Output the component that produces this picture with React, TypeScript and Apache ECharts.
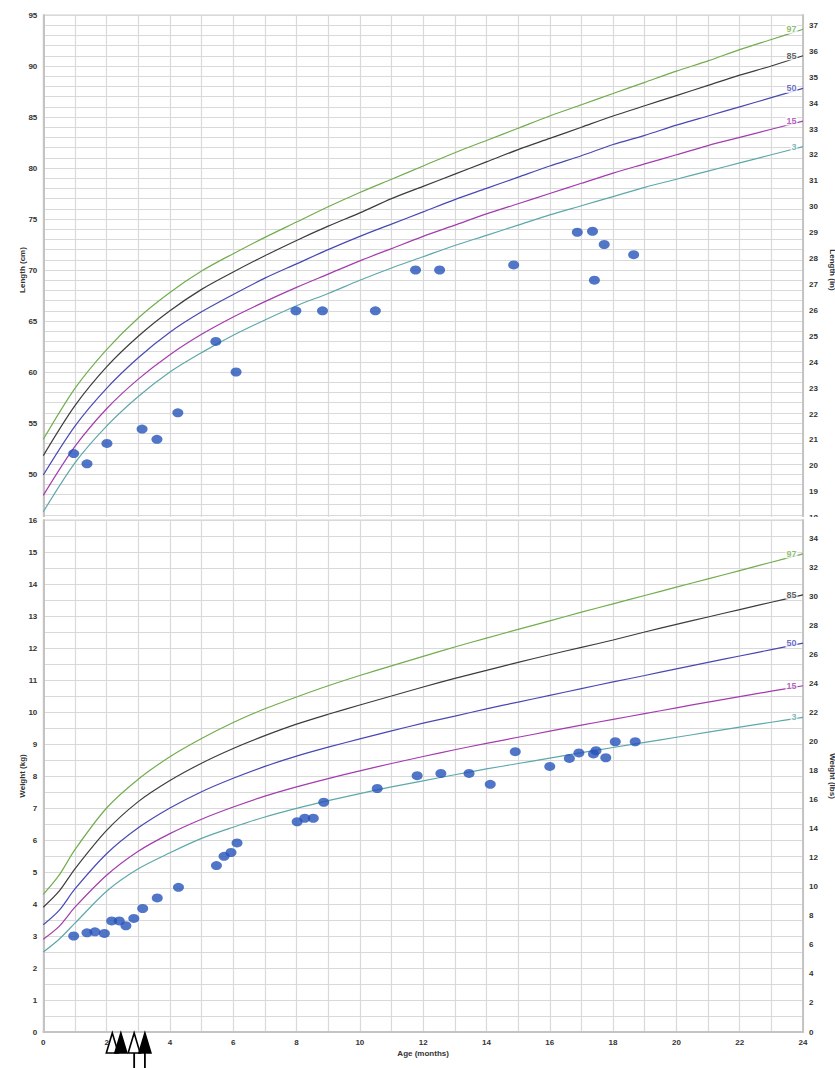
import React, { useEffect, useRef } from "react";
import * as echarts from "echarts";

// ---------- reference curves (WHO boys) ----------
const lengthAges = [0, 1, 2, 3, 4, 5, 6, 7, 8, 9, 10, 11, 12, 13, 14, 15, 16, 17, 18, 19, 20, 21, 22, 23, 24];
const lenP3 = [46.3, 51.1, 54.7, 57.6, 60.0, 61.9, 63.6, 65.1, 66.5, 67.7, 69.0, 70.2, 71.3, 72.4, 73.4, 74.4, 75.4, 76.3, 77.2, 78.1, 78.9, 79.7, 80.5, 81.3, 82.1];
const lenP15 = [47.9, 52.7, 56.4, 59.3, 61.7, 63.7, 65.4, 66.9, 68.3, 69.6, 70.9, 72.1, 73.3, 74.4, 75.5, 76.5, 77.5, 78.5, 79.5, 80.4, 81.3, 82.2, 83.0, 83.8, 84.6];
const lenP50 = [49.9, 54.7, 58.4, 61.4, 63.9, 65.9, 67.6, 69.2, 70.6, 72.0, 73.3, 74.5, 75.7, 76.9, 78.0, 79.1, 80.2, 81.2, 82.3, 83.2, 84.2, 85.1, 86.0, 86.9, 87.8];
const lenP85 = [51.8, 56.7, 60.5, 63.5, 66.0, 68.1, 69.8, 71.4, 72.9, 74.3, 75.6, 77.0, 78.2, 79.4, 80.6, 81.8, 82.9, 84.0, 85.1, 86.1, 87.1, 88.1, 89.1, 90.0, 91.0];
const lenP97 = [53.4, 58.4, 62.2, 65.3, 67.8, 69.9, 71.6, 73.2, 74.7, 76.2, 77.6, 78.9, 80.2, 81.5, 82.7, 83.9, 85.1, 86.2, 87.3, 88.4, 89.5, 90.5, 91.6, 92.6, 93.6];

const weightAges = [0, 0.5, 1, 2, 3, 4, 5, 6, 7, 8, 9, 10, 11, 12, 13, 14, 15, 16, 17, 18, 19, 20, 21, 22, 23, 24];
const wP3 = [2.5, 2.9, 3.4, 4.4, 5.1, 5.6, 6.05, 6.4, 6.72, 6.99, 7.23, 7.45, 7.66, 7.85, 8.04, 8.22, 8.39, 8.56, 8.73, 8.89, 9.05, 9.21, 9.37, 9.53, 9.68, 9.83];
const wP15 = [2.9, 3.3, 3.9, 4.9, 5.65, 6.2, 6.65, 7.03, 7.37, 7.66, 7.92, 8.16, 8.39, 8.61, 8.82, 9.02, 9.21, 9.4, 9.59, 9.77, 9.95, 10.13, 10.31, 10.48, 10.65, 10.82];
const wP50 = [3.35, 3.8, 4.47, 5.57, 6.38, 7.0, 7.51, 7.93, 8.3, 8.62, 8.9, 9.16, 9.41, 9.65, 9.87, 10.1, 10.31, 10.52, 10.73, 10.94, 11.14, 11.35, 11.55, 11.75, 11.95, 12.15];
const wP85 = [3.9, 4.4, 5.1, 6.3, 7.2, 7.86, 8.4, 8.86, 9.26, 9.62, 9.93, 10.22, 10.5, 10.78, 11.05, 11.3, 11.55, 11.79, 12.02, 12.25, 12.5, 12.74, 12.97, 13.2, 13.43, 13.66];
const wP97 = [4.3, 4.9, 5.7, 7.0, 7.9, 8.6, 9.17, 9.67, 10.1, 10.47, 10.82, 11.14, 11.44, 11.74, 12.03, 12.31, 12.58, 12.85, 13.12, 13.38, 13.64, 13.9, 14.16, 14.42, 14.68, 14.94];

const percentileNames = ["97", "85", "50", "15", "3"];
const percentileColors = ["#72ad4e", "#3c3c3c", "#4848b4", "#a33cae", "#5ea8aa"];

// ---------- measurements ----------
const measLengthAges = [0.96, 1.38, 2.01, 3.12, 3.59, 4.25, 5.45, 6.09, 7.98, 8.82, 10.49, 11.76, 12.52, 14.86, 16.87, 17.35, 17.41, 17.72, 18.65];
const measLengthCm = [52.0, 51.0, 53.0, 54.4, 53.4, 56.0, 63.0, 60.0, 66.0, 66.0, 66.0, 70.0, 70.0, 70.5, 73.7, 73.8, 69.0, 72.5, 71.5];

const measWeightAges = [0.96, 1.38, 1.63, 1.93, 2.16, 2.4, 2.61, 2.86, 3.14, 3.6, 4.27, 5.47, 5.71, 5.93, 6.12, 8.02, 8.26, 8.53, 8.86, 10.55, 11.81, 12.56, 13.45, 14.12, 14.91, 16.0, 16.62, 16.92, 17.38, 17.46, 17.77, 18.07, 18.7];
const measWeightKg = [3.0, 3.1, 3.13, 3.08, 3.47, 3.47, 3.32, 3.55, 3.86, 4.19, 4.52, 5.2, 5.49, 5.61, 5.91, 6.57, 6.68, 6.68, 7.18, 7.61, 8.01, 8.08, 8.08, 7.74, 8.76, 8.3, 8.55, 8.72, 8.69, 8.79, 8.57, 9.07, 9.07];

// ---------- event markers on the age axis ----------
const eventAges = [2.18, 2.45, 2.87, 3.21];
const eventFilled = [0, 1, 0, 1];
const eventShaft = [0, 0, 1, 1];

// ---------- tick labels ----------
const cmTicks = [45, 50, 55, 60, 65, 70, 75, 80, 85, 90, 95];
const inchTicks = [18, 19, 20, 21, 22, 23, 24, 25, 26, 27, 28, 29, 30, 31, 32, 33, 34, 35, 36, 37];
const kgTicks = [0, 1, 2, 3, 4, 5, 6, 7, 8, 9, 10, 11, 12, 13, 14, 15, 16];
const lbsTicks = [0, 2, 4, 6, 8, 10, 12, 14, 16, 18, 20, 22, 24, 26, 28, 30, 32, 34];
const monthTicks = [0, 2, 4, 6, 8, 10, 12, 14, 16, 18, 20, 22, 24];

const FONT = "Liberation Sans, Arial, sans-serif";
const labelStyle = { fontSize: 8, fontWeight: "bold" as const, color: "#333", fontFamily: FONT };
const gridLine = { show: true, lineStyle: { color: "#d9d9d9", width: 1.2 } };
const axisLn = { show: true, lineStyle: { color: "#c4c4c4", width: 2 } };
const DOT = "#2552b9";

function curveSeries(ages: number[], sets: number[][]) {
  const lines = sets.map((vals, i) => ({
    type: "line",
    name: percentileNames[i],
    data: ages.map((a, j) => [a, vals[j]]),
    showSymbol: false,
    symbol: "none",
    smooth: 0.3,
    lineStyle: { color: percentileColors[i], width: 1.2 },
    z: 3,
  }));
  const labels = sets.map((vals, i) => ({
    type: "scatter",
    name: "lbl" + percentileNames[i],
    data: [[ages[ages.length - 1], vals[vals.length - 1]]],
    symbol: "circle",
    symbolSize: 1,
    itemStyle: { color: "rgba(0,0,0,0)" },
    z: 4,
    label: {
      show: true,
      position: "left",
      distance: 5,
      formatter: percentileNames[i],
      fontSize: 9,
      fontWeight: "bold",
      fontFamily: FONT,
      color: percentileColors[i],
      backgroundColor: "#fff",
      padding: [0, 1],
    },
  }));
  return [...lines, ...labels];
}

function TopChart() {
  const ref = useRef<HTMLDivElement>(null);
  useEffect(() => {
    const chart = echarts.init(ref.current!, null, { renderer: "svg" });
    chart.setOption({
      animation: false,
      grid: { left: 43.3, right: 32, top: 15, height: 510, show: true, borderColor: "#cfcfcf", borderWidth: 1, outerBoundsMode: "none", containLabel: false },
      xAxis: {
        type: "value",
        min: 0,
        max: 24,
        interval: 1,
        axisLabel: { show: false },
        axisTick: { show: false },
        axisLine: axisLn,
        splitLine: gridLine,
      },
      yAxis: [
        {
          type: "value",
          position: "left",
          min: 45,
          max: 95,
          interval: 1,
          axisLabel: { ...labelStyle, customValues: cmTicks, margin: 6 },
          axisTick: { show: false },
          axisLine: axisLn,
          splitLine: gridLine,
          name: "Length (cm)",
          nameLocation: "middle",
          nameGap: 17,
          nameMoveOverlap: false,
          nameTextStyle: { ...labelStyle },
        },
        {
          type: "value",
          position: "right",
          min: 45 / 2.54,
          max: 95 / 2.54,
          axisLabel: { ...labelStyle, customValues: inchTicks, margin: 6, formatter: (v: number) => String(Math.round(v)) },
          axisTick: { show: false },
          axisLine: axisLn,
          splitLine: { show: false },
          name: "Length (in)",
          nameLocation: "middle",
          nameRotate: -90,
          nameGap: 25,
          nameMoveOverlap: false,
          nameTextStyle: { ...labelStyle },
        },
      ],
      series: [
        ...curveSeries(lengthAges, [lenP97, lenP85, lenP50, lenP15, lenP3]),
        {
          type: "scatter",
          data: measLengthAges.map((a, i) => [a, measLengthCm[i]]),
          symbol: "circle",
          symbolSize: [11, 9],
          itemStyle: { color: DOT },
          z: 5,
        },
      ],
    });
    return () => chart.dispose();
  }, []);
  return <div ref={ref} style={{ width: 835, height: 545 }} />;
}

function BottomChart() {
  const ref = useRef<HTMLDivElement>(null);
  useEffect(() => {
    const chart = echarts.init(ref.current!, null, { renderer: "svg" });
    chart.setOption({
      animation: false,
      grid: { left: 43.3, right: 32, top: 15, height: 512, show: true, borderColor: "#cfcfcf", borderWidth: 1, outerBoundsMode: "none", containLabel: false },
      xAxis: {
        type: "value",
        min: 0,
        max: 24,
        interval: 1,
        axisLabel: { ...labelStyle, customValues: monthTicks, margin: 6 },
        axisTick: { show: false },
        axisLine: axisLn,
        splitLine: gridLine,
        name: "Age (months)",
        nameLocation: "middle",
        nameGap: 17,
        nameMoveOverlap: false,
        nameTextStyle: { ...labelStyle },
      },
      yAxis: [
        {
          type: "value",
          position: "left",
          min: 0,
          max: 16,
          interval: 0.5,
          axisLabel: { ...labelStyle, customValues: kgTicks, margin: 6 },
          axisTick: { show: false },
          axisLine: axisLn,
          splitLine: gridLine,
          name: "Weight (kg)",
          nameLocation: "middle",
          nameGap: 17,
          nameMoveOverlap: false,
          nameTextStyle: { ...labelStyle },
        },
        {
          type: "value",
          position: "right",
          min: 0,
          max: 16 * 2.20462,
          axisLabel: { ...labelStyle, customValues: lbsTicks, margin: 6 },
          axisTick: { show: false },
          axisLine: axisLn,
          splitLine: { show: false },
          name: "Weight (lbs)",
          nameLocation: "middle",
          nameRotate: -90,
          nameGap: 25,
          nameMoveOverlap: false,
          nameTextStyle: { ...labelStyle },
        },
      ],
      series: [
        ...curveSeries(weightAges, [wP97, wP85, wP50, wP15, wP3]),
        {
          type: "scatter",
          data: measWeightAges.map((a, i) => [a, measWeightKg[i]]),
          symbol: "circle",
          symbolSize: [11, 9],
          itemStyle: { color: DOT },
          z: 5,
        },
        {
          type: "custom",
          clip: false,
          z: 10,
          data: eventAges.map((a, i) => [a, 0, eventFilled[i], eventShaft[i]]),
          renderItem: (_p: any, api: any) => {
            const pt = api.coord([api.value(0), 0]);
            const x = pt[0];
            const y = pt[1];
            const filled = api.value(2) === 1;
            const shaft = api.value(3) === 1;
            const children: any[] = [
              {
                type: "polygon",
                shape: { points: [[x, y + 1], [x - 6, y + 21], [x + 6, y + 21]] },
                style: { fill: filled ? "#000" : "#fff", stroke: "#000", lineWidth: 1.6 },
              },
            ];
            if (shaft) {
              children.push({
                type: "line",
                shape: { x1: x, y1: y + 21, x2: x, y2: y + 40 },
                style: { stroke: "#000", lineWidth: 1.8 },
              });
            }
            return { type: "group", children };
          },
        },
      ],
    });
    return () => chart.dispose();
  }, []);
  return <div ref={ref} style={{ width: 835, height: 563 }} />;
}

export default function App() {
  return (
    <div style={{ position: "absolute", left: 0, top: 0, width: 835, height: 1068, background: "#fff", overflow: "hidden" }}>
      <div style={{ position: "absolute", left: 0, top: 0, width: 835, height: 517, overflow: "hidden" }}>
        <TopChart />
      </div>
      <div style={{ position: "absolute", left: 0, top: 505, width: 835, height: 563 }}>
        <BottomChart />
      </div>
    </div>
  );
}
